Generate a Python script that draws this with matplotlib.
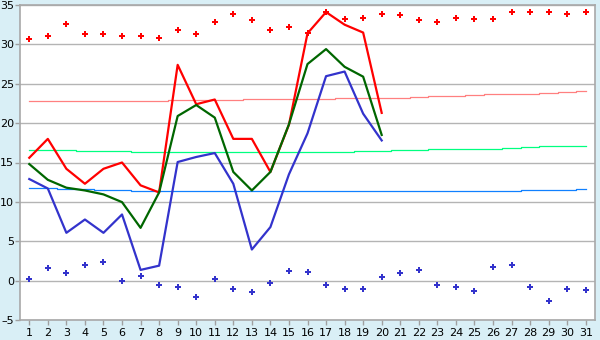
import matplotlib
matplotlib.use("Agg")
import matplotlib.pyplot as plt
import numpy as np

days = list(range(1, 32))

# Daily max temperature (line), days 1-20
tmax = [15.6, 18.0, 14.2, 12.3, 14.2, 15.0, 12.1, 11.2, 27.4, 22.4,
        23.0, 18.0, 18.0, 13.8, 19.8, 31.4, 34.1, 32.5, 31.5, 21.3]
# Daily mean temperature (line), days 1-20
tmean = [14.8, 12.8, 11.8, 11.45, 10.95, 9.97, 6.7, 11.2, 20.9, 22.3,
         20.7, 13.8, 11.45, 13.8, 19.85, 27.5, 29.4, 27.15, 25.9, 18.5]
# Daily min temperature (line), days 1-20
tmin = [12.9, 11.7, 6.07, 7.76, 6.07, 8.4, 1.36, 1.9, 15.06, 15.7,
        16.2, 12.3, 3.95, 6.8, 13.5, 18.7, 25.96, 26.55, 21.2, 17.8]

# Record max (red markers), days 1-31
rec_max = [30.63, 31.05, 32.54, 31.27, 31.27, 31.05, 31.05, 30.76, 31.82, 31.27,
           32.79, 33.8, 33.04, 31.77, 32.2, 31.5, 34.1, 33.18, 33.3, 33.8,
           33.68, 33.04, 32.79, 33.3, 33.18, 33.18, 34.07, 34.07, 34.07, 33.8, 34.07]
# Record min (blue markers), days 1-31
rec_min = [0.2, 1.6, 0.98, 2.0, 2.42, 0.0, 0.59, -0.55, -0.76, -2.04,
           0.21, -1.06, -1.44, -0.3, 1.27, 1.15, -0.55, -1.06, -1.06, 0.47,
           0.98, 1.36, -0.55, -0.8, -1.31, 1.74, 2.0, -0.8, -2.59, -1.06, -1.19]

# Normals, days 1-31
norm_max = [22.78]*8 + [22.9]*4 + [23.04]*5 + [23.2]*4 + [23.33] + [23.46]*2 + [23.59] \
           + [23.7]*3 + [23.84] + [23.97] + [24.14]
norm_mean = [16.55]*3 + [16.45]*3 + [16.3]*12 + [16.42]*2 + [16.55]*2 + [16.67]*4 \
            + [16.8] + [16.93] + [17.06] + [17.14]*2
norm_min = [11.8]*2 + [11.67]*2 + [11.54]*2 + [11.41]*21 + [11.54]*3 + [11.67]

yticks = list(range(-5, 36, 5))
ytick_labels = ["\u20135", "0", "5", "10", "15", "20", "25", "30", "35"]
xtick_labels = [str(d) for d in days]

fig = plt.figure(figsize=(6.0, 3.4), dpi=100)
fig.patch.set_facecolor("#d9eff6")
ax = fig.add_axes([20/600, 20/340, 575/600, 315/340])
ax.set_facecolor("white")

ax.set_xlim(0.5, 31.5)
ax.set_ylim(-5, 35)
ax.set_yticks(yticks)
ax.set_yticklabels(ytick_labels)
ax.set_xticks(days)
ax.set_xticklabels(xtick_labels)
ax.yaxis.grid(True, color="#b4b4b4", linewidth=1.0)
ax.set_axisbelow(True)
for s in ax.spines.values():
    s.set_color("#a8a8a8")
    s.set_linewidth(1.2)
ax.tick_params(axis="both", colors="#a0a0a0", labelcolor="black", labelsize=8,
               length=3.6, width=1)
ax.tick_params(axis="y", pad=0.5)
ax.tick_params(axis="x", pad=2)

ax.plot(days, norm_max, color="#ff8080", lw=0.9, drawstyle="steps-mid", zorder=2)
ax.plot(days, norm_mean, color="#00ff80", lw=0.9, drawstyle="steps-mid", zorder=2)
ax.plot(days, norm_min, color="#1080ff", lw=0.9, drawstyle="steps-mid", zorder=2)

ax.plot(days, rec_max, linestyle="none", marker="P", markersize=5, color="#ff0000",
        markeredgewidth=0, zorder=2.5)
ax.plot(days, rec_min, linestyle="none", marker="P", markersize=5, color="#3333cc",
        markeredgewidth=0, zorder=2.5)

d20 = days[:20]
ax.plot(d20, tmax, color="#ff0000", lw=1.6, zorder=3)
ax.plot(d20, tmean, color="#006600", lw=1.6, zorder=3)
ax.plot(d20, tmin, color="#3333cc", lw=1.6, zorder=3)

fig.savefig("out.png", dpi=100, facecolor=fig.get_facecolor())
